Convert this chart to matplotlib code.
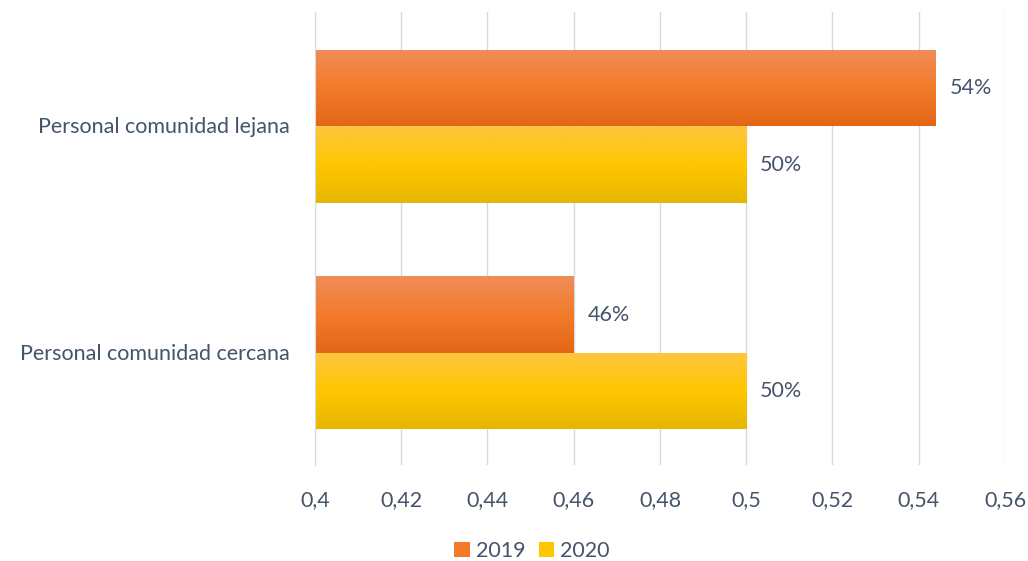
import numpy as np
import matplotlib.pyplot as plt
from matplotlib.colors import LinearSegmentedColormap
from matplotlib.patches import Patch

plt.rcParams['font.family'] = ['Lato', 'DejaVu Sans']

categories = ['Personal comunidad cercana', 'Personal comunidad lejana']
series_names = ['2019', '2020']
values_2019 = [0.46, 0.544]
values_2020 = [0.50, 0.50]
labels_2019 = ['46%', '54%']
labels_2020 = ['50%', '50%']
xticks = [0.40, 0.42, 0.44, 0.46, 0.48, 0.50, 0.52, 0.54, 0.56]
xtick_labels = ['0,4', '0,42', '0,44', '0,46', '0,48', '0,5', '0,52', '0,54', '0,56']

text_color = '#44546A'
grid_color = '#D9D9D9'
orange_cmap = LinearSegmentedColormap.from_list('o', ['#E36617', '#F27B2A', '#F08D58'])
yellow_cmap = LinearSegmentedColormap.from_list('y', ['#E5B700', '#FFC600', '#FEC63F'])

fig = plt.figure(figsize=(10.28, 5.61), dpi=100)
ax = fig.add_axes([315 / 1028, 96 / 561, 690 / 1028, 453 / 561])

y = np.arange(len(categories))
h = 0.338
bars19 = ax.barh(y + h / 2 - 0.005, np.array(values_2019) - 0.4, left=0.4, height=h, color='none')
bars20 = ax.barh(y - h / 2 - 0.005, np.array(values_2020) - 0.4, left=0.4, height=h, color='none')

grad = np.linspace(0, 1, 256).reshape(-1, 1)
for bars, cmap in [(bars19, orange_cmap), (bars20, yellow_cmap)]:
    for b in bars:
        x0, y0 = b.get_x(), b.get_y()
        w, hh = b.get_width(), b.get_height()
        im = ax.imshow(grad, cmap=cmap, aspect='auto', origin='lower',
                       extent=[x0, x0 + w, y0, y0 + hh], zorder=2)
        im.set_clip_path(b)

for bars, labs in [(bars19, labels_2019), (bars20, labels_2020)]:
    for b, lab in zip(bars, labs):
        ax.text(b.get_x() + b.get_width() + 0.0032, b.get_y() + b.get_height() / 2, lab,
                va='center', ha='left', fontsize=15.5, color=text_color)

ax.set_xlim(0.4, 0.56)
ax.set_ylim(-0.5, 1.5)
ax.set_xticks(xticks)
ax.set_xticklabels(xtick_labels, fontsize=15.5, color=text_color)
ax.set_yticks(y)
ax.set_yticklabels(categories, fontsize=15.5, color=text_color)
ax.tick_params(length=0, pad=18, axis='x')
ax.tick_params(length=0, pad=18, axis='y')
ax.grid(axis='x', color=grid_color, linewidth=1)
ax.set_axisbelow(True)
for s in ['top', 'right', 'bottom']:
    ax.spines[s].set_visible(False)
ax.spines['left'].set_color(grid_color)

handles = [Patch(facecolor='#F27B2A'), Patch(facecolor='#FFC600')]
fig.legend(handles, series_names, loc='center', bbox_to_anchor=(532 / 1028, 1 - 551 / 561),
           ncol=2, frameon=False, fontsize=15.5, labelcolor=text_color,
           handlelength=0.7, handleheight=0.7, handletextpad=0.3, columnspacing=0.6)

fig.savefig('out.png', dpi=100, facecolor='white')
